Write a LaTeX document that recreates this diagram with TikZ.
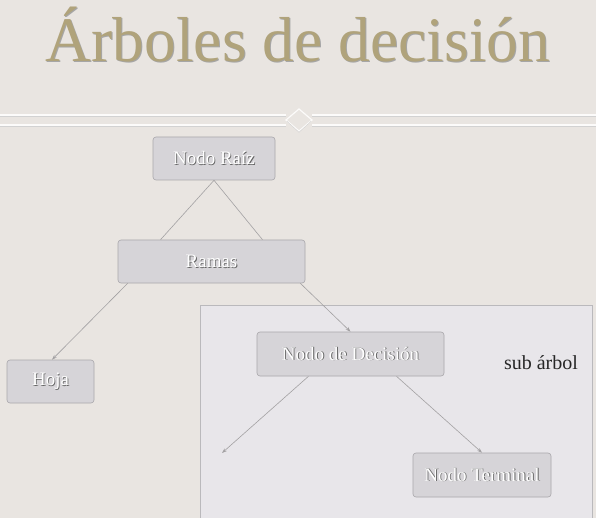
\documentclass[tikz,border=0pt]{standalone}
\usepackage{fontspec}
\setmainfont{Liberation Serif}
\usepackage{tikz}
\usetikzlibrary{calc, arrows.meta}
\definecolor{paper}{HTML}{E9E5E1}
\definecolor{subpaper}{HTML}{E8E6EA}
\definecolor{boxfill}{HTML}{D6D4D8}
\definecolor{boxline}{HTML}{A9A7AB}
\definecolor{titletan}{HTML}{B0A37B}
\definecolor{wire}{HTML}{A3A1A3}
\newcommand{\shadowtxt}[2]{\makebox[0pt][l]{\color{#2}\hspace{0.9pt}\raisebox{-0.9pt}{#1}}#1}
\tikzset{
    treebox/.style = {draw = boxline, fill = boxfill, rounded corners = 3pt, line width = 0.6pt,
        minimum height = 43pt, inner sep = 0pt, text = white, font = \fontsize{19}{22}\selectfont},
    branch/.style = {draw = wire, line width = 0.6pt},
    arrowbranch/.style = {branch, -{Stealth[length = 5pt, width = 3.5pt]}},
    trim/.style = {line width = 1.2pt, white!85!paper}
}

\begin{document}
\begin{tikzpicture}[x = 1pt, y = -1pt]
            \useasboundingbox (0, 0) rectangle (596, 518);
            \fill[paper] (0, 0) rectangle (596, 518);

            \node[anchor = base, text = titletan, font = \fontsize{63.5}{70}\selectfont] (title) at (298, 62) {\shadowtxt{Árboles de decisión}{black!35}};

            \draw[trim] (0, 115) -- (286, 115);
            \draw[trim] (0, 125) -- (286, 125);
            \draw[trim] (312, 115) -- (596, 115);
            \draw[trim] (312, 125) -- (596, 125);
            \draw[gray!35, line width = 0.4pt] (0, 116.3) -- (286, 116.3) (0, 126.3) -- (286, 126.3) (312, 116.3) -- (596, 116.3) (312, 126.3) -- (596, 126.3);
            \draw[trim, line join = miter] (286, 120) -- (299, 109) -- (312, 120) -- (299, 131) -- cycle;
            \draw[gray!35, line width = 0.4pt] (287, 121.3) -- (299, 132.3) -- (311, 121.3);

            \filldraw[draw = boxline!80, fill = subpaper, line width = 0.6pt] (200, 305) rectangle (592, 522);
            \node[font = \fontsize{20}{22}\selectfont, text = black!85] (subtree) at (541, 363) {sub árbol};

            \node[treebox, minimum width = 122pt] (raiz) at (214, 158.5) {\shadowtxt{Nodo Raíz}{black!60}};
            \node[treebox, minimum width = 187pt] (ramas) at (211.5, 261.5) {\shadowtxt{Ramas}{black!60}};
            \node[treebox, minimum width = 87pt] (hoja) at (50.5, 381.5) {\shadowtxt{Hoja}{black!60}};
            \node[treebox, minimum width = 187pt, minimum height = 44pt] (decision) at (350.5, 354) {\shadowtxt{Nodo de Decisión}{black!60}};
            \node[treebox, minimum width = 138pt, minimum height = 44pt] (terminal) at (482, 475) {\shadowtxt{Nodo Terminal}{black!60}};
            \coordinate (open) at (222, 453);

            \draw[branch] (raiz.south) -- ([xshift = -51pt]ramas.north);
            \draw[branch] (raiz.south) -- ([xshift = 51pt]ramas.north);
            \draw[arrowbranch] ([xshift = 10pt]ramas.south west) -- ([xshift = 1.5pt]hoja.north);
            \draw[arrowbranch] ([xshift = -5pt]ramas.south east) -- (decision.north);
            \draw[arrowbranch] ([xshift = -42pt]decision.south) -- (open);
            \draw[arrowbranch] ([xshift = 46pt]decision.south) -- (terminal.north);

        \end{tikzpicture}
\end{document}
